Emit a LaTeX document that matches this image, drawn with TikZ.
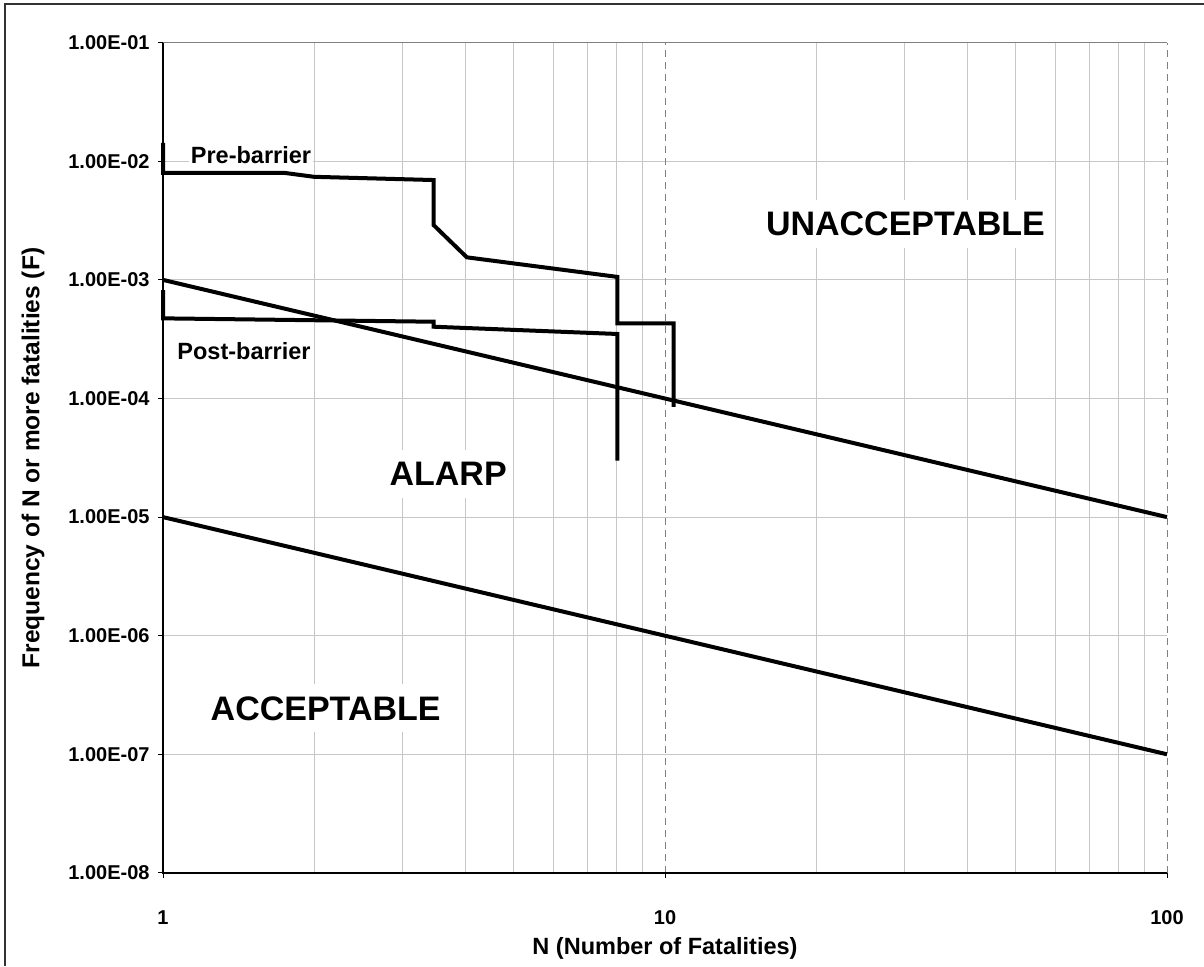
\documentclass[tikz,border=0pt]{standalone}
\usepackage{fontspec}
\setmainfont{Liberation Sans}

\begin{document}
\begin{tikzpicture}[x=502pt,y=118.6pt,font=\bfseries]
  \tikzstyle{gridline}=[draw=black!22,line width=1pt]
  \tikzstyle{major}=[draw=black!50,line width=1pt,dash pattern=on 7pt off 5pt]
  \tikzstyle{fncurve}=[line width=4pt]
  \tikzstyle{zone}=[fill=white,inner xsep=5pt,inner ysep=12pt,anchor=base,font=\bfseries\fontsize{34}{34}\selectfont]
  \tikzstyle{tag}=[fill=white,inner sep=2pt,anchor=base,font=\bfseries\fontsize{23.5}{24}\selectfont]
  \tikzstyle{ticklbl}=[inner sep=0pt,font=\bfseries\fontsize{20}{20}\selectfont]

  \useasboundingbox (-0.3247,-8.785) rectangle (2.0737,-0.640);
  \draw[line width=1.5pt,black!80] (-0.3147,-8.785) -- (-0.3147,-0.674) -- (2.0737,-0.674);

  \foreach \e in {-2,...,-7}
    \draw[gridline] (0,\e) -- (2,\e);
  \foreach \d in {0,1}
    \foreach \m in {2,...,9}
      \draw[gridline] ({\d+log10(\m)},-8) -- ({\d+log10(\m)},-1);
  \draw[major] (1,-8) -- (1,-1);
  \draw[major] (2,-8) -- (2,-1);
  \draw[black!50,line width=1pt] (0,-1) -- (2,-1);
  \draw[line width=1.5pt] (0,-1) -- (0,-8) -- (2,-8);

  \foreach \e/\t in {-1/01,-2/02,-3/03,-4/04,-5/05,-6/06,-7/07,-8/08}
    \draw[line width=1pt] (0,\e) -- ++(-5pt,0) node[ticklbl,left=8pt] {1.00E-\t};
  \foreach \d/\t in {0/1,1/10,2/100}
    \draw[line width=1pt] (\d,-8) -- ++(0,-5pt);
  \foreach \d/\t in {0/1,1/10,2/100}
    \node[ticklbl,anchor=base] (n\t) at (\d,-8.431) {\t};

  \node[font=\bfseries\fontsize{23.5}{23.5}\selectfont,anchor=base] (xtitle) at (1,-8.692) {N (Number of Fatalities)};
  \node[font=\bfseries\fontsize{24.5}{24.5}\selectfont,rotate=90] (ytitle) at (-0.259,-4.502) {Frequency of N or more fatalities (F)};

  \node[zone] (unacc) at (1.479,-2.626) {UNACCEPTABLE};
  \node[zone] (alarp) at (0.568,-4.735) {ALARP};
  \node[zone] (acc) at (0.324,-6.711) {ACCEPTABLE};
  \node[tag] (pre) at (0.1753,-2.017) {Pre-barrier};
  \node[tag] (post) at (0.1614,-3.675) {Post-barrier};

  \draw[fncurve] (0,-3) -- (2,-5);
  \draw[fncurve] (0,-5) -- (2,-7);

  \draw[fncurve] (0,{log10(1.43)-2}) -- (0,{log10(8.0)-3})
    -- ({log10(1.74)},{log10(8.0)-3}) -- ({log10(2)},{log10(7.4)-3})
    -- ({log10(3.46)},{log10(6.95)-3}) -- ({log10(3.46)},{log10(2.9)-3})
    -- ({log10(4.03)},{log10(1.55)-3}) -- ({log10(8.04)},{log10(1.06)-3})
    -- ({log10(8.04)},{log10(4.3)-4}) -- ({log10(10.4)},{log10(4.3)-4})
    -- ({log10(10.4)},{log10(8.5)-5});
  \draw[fncurve] (0,{log10(8.2)-4}) -- (0,{log10(4.74)-4})
    -- ({log10(3.46)},{log10(4.44)-4}) -- ({log10(3.46)},{log10(4.03)-4})
    -- ({log10(8.04)},{log10(3.5)-4}) -- ({log10(8.04)},{log10(3.0)-5});
\end{tikzpicture}
\end{document}
